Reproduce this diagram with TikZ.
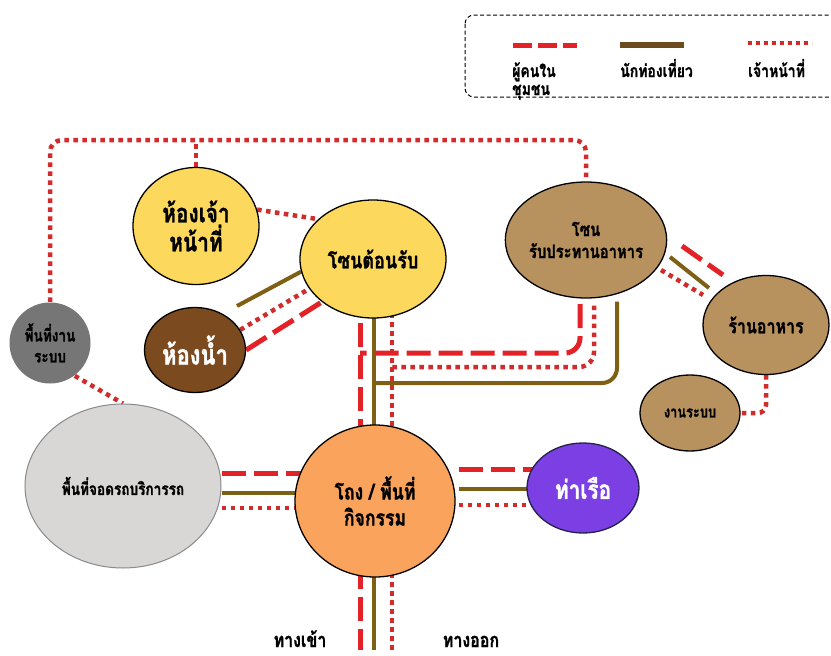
\documentclass[tikz,border=0pt]{standalone}
\usepackage{fontspec}
\newfontfamily\thai[Script=Thai,FakeStretch=0.8,BoldFeatures={FakeBold=1.2}]{Loma}
\newcommand{\thf}[2]{\thai\bfseries\fontsize{#1}{#2}\selectfont}
\usetikzlibrary{calc,shapes.geometric}
\pgfdeclarelayer{back}
\pgfdeclarelayer{lines}
\pgfsetlayers{back,lines,main}
\definecolor{cred}{HTML}{E32228}
\definecolor{cdot}{HTML}{D22B2B}
\definecolor{cbrown}{HTML}{7D6014}
\definecolor{clegbrown}{HTML}{6B4A1E}
\definecolor{cyellow}{HTML}{FCD85C}
\definecolor{cbath}{HTML}{7B4A1E}
\definecolor{cgray}{HTML}{767676}
\definecolor{clight}{HTML}{D9D6D6}
\definecolor{cpark}{HTML}{8A8A8A}
\definecolor{corange}{HTML}{F9A35C}
\definecolor{cpurple}{HTML}{7B3FE4}
\definecolor{cnavy}{HTML}{22224A}
\definecolor{ctan}{HTML}{B8925E}
\tikzset{
  pline/.style={draw=cred, line width=5pt, dash pattern=on 24pt off 8pt},
  tline/.style={draw=cbrown, line width=4pt},
  sline/.style={draw=cdot, line width=4.5pt, dash pattern=on 4.5pt off 4.5pt},
  zone/.style={ellipse, draw=black, line width=1.3pt, inner sep=0pt, align=center},
  lbl/.style={inner sep=0pt}
}
\begin{document}
\begin{tikzpicture}[x=1pt,y=-1pt]
\useasboundingbox (0,0) rectangle (831,656);
\clip (0,0) rectangle (831,656);
\begin{pgfonlayer}{back}
\fill[white] (0,0) rectangle (831,656);
\end{pgfonlayer}

% legend
\draw[black, line width=1pt, dash pattern=on 4pt off 2.5pt, rounded corners=9pt] (465,15) rectangle (845,97);
\draw[draw=cred, line width=5pt, dash pattern=on 19pt off 6pt] (513,45) -- (577,45);
\draw[draw=clegbrown, line width=6pt] (620,45) -- (684,45);
\draw[draw=cdot, line width=4pt, dash pattern=on 4pt off 4pt] (748,43) -- (812,43);
\node[lbl, anchor=base west, font=\thf{17.5}{19}] (lg1) at (512,77) {ผู้คนใน};
\node[lbl, anchor=base west, font=\thf{17.5}{19}] (lg1b) at (512,95) {ชุมชน};
\node[lbl, anchor=base west, font=\thf{17.5}{19}] (lg2) at (620,77) {นักท่องเที่ยว};
\node[lbl, anchor=base west, font=\thf{17.5}{19}] (lg3) at (748,77) {เจ้าหน้าที่};

% zones
\node[zone, fill=cyellow, minimum width=126pt, minimum height=117pt, font=\thf{26}{29}] (staffroom) at (196,226) {ห้องเจ้า\\หน้าที่};
\node[zone, fill=cyellow, minimum width=146pt, minimum height=118pt, font=\thf{22.5}{26}] (recep) at (373,259) {โซนต้อนรับ};
\node[zone, fill=cbath, minimum width=101pt, minimum height=85pt, text=white, font=\thf{27.5}{28}] (bath) at (195,350) {ห้องน้ำ};
\node[zone, draw=none, fill=cgray, minimum width=81pt, minimum height=81pt, font=\thf{17}{21}] (sys) at (50,343) {พื้นที่งาน\\ระบบ};
\node[zone, draw=cpark, line width=1pt, fill=clight, minimum width=196pt, minimum height=164pt, font=\thf{17}{18}] (park) at (123,486) {พื้นที่จอดรถบริการรถ};
\node[zone, fill=corange, minimum width=160pt, minimum height=152pt, font=\thf{22}{26}] (hall) at (375,501) {โถง / พื้นที่\\กิจกรรม};
\node[zone, draw=cnavy, fill=cpurple, minimum width=112pt, minimum height=90pt, text=white, font=\thf{26}{26}] (pier) at (583,488) {ท่าเรือ};
\node[zone, fill=ctan, minimum width=152pt, minimum height=116pt, font=\thf{18.5}{22}] (food) at (586,240) {โซน\\รับประทานอาหาร};
\node[zone, fill=ctan, minimum width=126pt, minimum height=99pt, font=\thf{20}{22}] (rest) at (766,325) {ร้านอาหาร};
\node[zone, fill=ctan, minimum width=100pt, minimum height=76pt, font=\thf{16}{18}] (sysw) at (690,413) {งานระบบ};
\node[lbl, anchor=base, font=\thf{20}{22}] (entry) at (300,647) {ทางเข้า};
\node[lbl, anchor=base, font=\thf{20}{22}] (exitl) at (471,647) {ทางออก};

% helper coordinates
\coordinate (topL) at (50,140);
\coordinate (topR) at (586,140);
\coordinate (xR) at (360,0);
\coordinate (xB) at (374,0);
\coordinate (xD) at (392,0);
\coordinate (fR) at (580,0);
\coordinate (endR) at (360,650);
\coordinate (endB) at (374,650);
\coordinate (endD) at (392,650);
\coordinate (jR) at (360,353);
\coordinate (jD) at (392,367);
\coordinate (jB) at (374,383);
\coordinate (bathb) at (237,306);
\coordinate (h1) at (0,473);
\coordinate (h2) at (0,493);
\coordinate (h3) at (0,508);
\coordinate (p1) at (0,469);
\coordinate (p2) at (0,489);
\coordinate (p3) at (0,505);
\coordinate (fr1) at (682,246);
\coordinate (fr2) at (723,275);
\coordinate (ft1) at (670,257);
\coordinate (ft2) at (709,288);
\coordinate (fs1) at (661,270);
\coordinate (fs2) at (703,295);

\begin{pgfonlayer}{lines}
% staff network (dotted)
\draw[sline, rounded corners=12pt] (sys.north) -- (topL) -- (topR) -- (food.north);
\draw[sline] (staffroom.north) -- (staffroom.north |- topL);
\draw[sline] (staffroom.15) -- (recep.144);
\draw[sline] (sys.-53) -- (park.north);
\draw[sline, rounded corners=8pt] (rest.south) |- (sysw.east);
% reception - bathroom
\draw[tline] (bathb) -- (recep.190);
\draw[sline] (bath.24) -- (recep.205);
\draw[pline] (bath.0) -- (recep.220);
% trunk reception - hall
\draw[pline] (recep.center -| xR) -- (hall.center -| xR);
\draw[tline] (recep.center -| xB) -- (hall.center -| xB);
\draw[sline] (recep.center -| xD) -- (hall.center -| xD);
% hall - exits
\draw[pline] (hall.center -| xR) -- (endR);
\draw[tline] (hall.center -| xB) -- (endB);
\draw[sline] (hall.center -| xD) -- (endD);
% food zone - trunk
\draw[pline, rounded corners=15pt] (food.center -| fR) |- (jR);
\draw[sline, rounded corners=15pt] ($(food.south)+(8,7)$) |- (jD);
\draw[tline, rounded corners=15pt] ($(food.south)+(31,3)$) |- (jB);
% food zone - restaurant
\draw[pline] (fr1) -- (fr2);
\draw[tline] (ft1) -- (ft2);
\draw[sline] (fs1) -- (fs2);
% parking - hall
\draw[pline] (park.east |- h1) -- (hall.center |- h1);
\draw[tline] (park.east |- h2) -- (hall.center |- h2);
\draw[sline] (park.east |- h3) -- (hall.center |- h3);
% hall - pier
\draw[pline] ([xshift=3pt]hall.east |- p1) -- (pier.center |- p1);
\draw[tline] ([xshift=3pt]hall.east |- p2) -- (pier.center |- p2);
\draw[sline] ([xshift=3pt]hall.east |- p3) -- (pier.center |- p3);
\end{pgfonlayer}
\end{tikzpicture}
\end{document}
